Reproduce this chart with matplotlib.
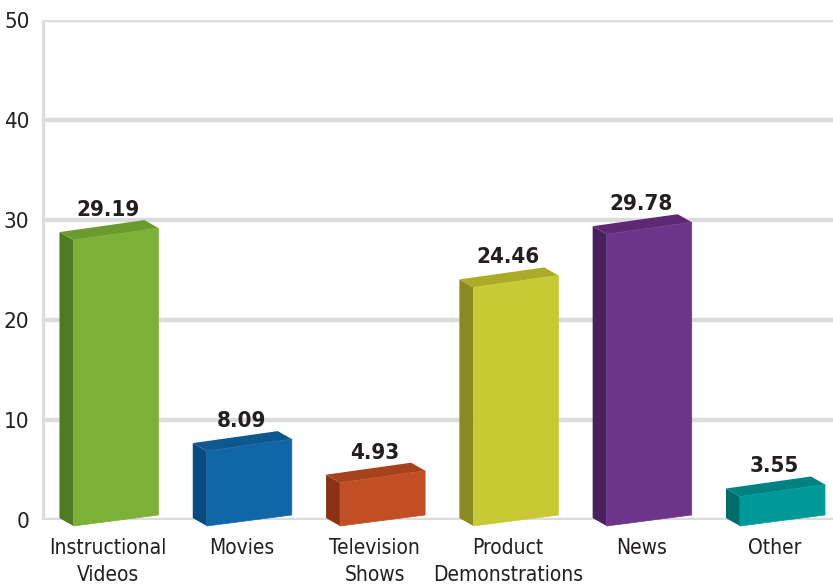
import matplotlib.pyplot as plt
from matplotlib.patches import Polygon

categories = ["Instructional\nVideos", "Movies", "Television\nShows", "Product\nDemonstrations", "News", "Other"]
values = [29.19, 8.09, 4.93, 24.46, 29.78, 3.55]
front_colors = ["#7cb036", "#1166a8", "#c24e25", "#c9c935", "#6d3589", "#009999"]
side_colors = ["#4e7a22", "#0b4a7e", "#8a3214", "#8a8a20", "#4a1f5e", "#006b6b"]
top_colors = ["#6c9a2e", "#0e5890", "#a8421c", "#abab2a", "#5c2a74", "#008282"]
yticks = [0, 10, 20, 30, 40, 50]

plt.rcParams['font.family'] = ['DejaVu Sans']
plt.rcParams['font.stretch'] = 'condensed'
text_color = "#231f20"
grid_color = "#dcdcdc"

fig = plt.figure(figsize=(8.33, 5.88), dpi=100)
ax = fig.add_axes([42 / 833, 68 / 588, 791 / 833, 500 / 588])
ax.set_xlim(-0.555, 5.379)
ax.set_ylim(0, 50)

# gridlines
for t in yticks:
    ax.axhline(t, color=grid_color, linewidth=3.2, zorder=1)
ax.axvline(-0.555, color=grid_color, linewidth=4.5, zorder=1)

# pseudo-3D bars
hw = 0.319      # half width of front face
dx, dy = -0.105, 0.8   # depth offset
for i, (v, fc, sc, tc) in enumerate(zip(values, front_colors, side_colors, top_colors)):
    xl, xr = i - hw, i + hw
    bl, br = -0.6, 0.5
    tl, tr = v - 1.2, v
    front = [(xl, bl), (xr, br), (xr, tr), (xl, tl)]
    side = [(xl + dx, bl + dy), (xl, bl), (xl, tl), (xl + dx, tl + dy)]
    top = [(xl, tl), (xr, tr), (xr + dx, tr + dy), (xl + dx, tl + dy)]
    ax.add_patch(Polygon(side, closed=True, facecolor=sc, edgecolor="none", zorder=3, clip_on=False))
    ax.add_patch(Polygon(top, closed=True, facecolor=tc, edgecolor="none", zorder=3, clip_on=False))
    ax.add_patch(Polygon(front, closed=True, facecolor=fc, edgecolor=fc, linewidth=0.5, zorder=4, clip_on=False))
    ax.text(i - 0.06, v + 0.8, f"{v:.2f}", ha="center", va="bottom", fontsize=16,
            fontweight="bold", color=text_color, zorder=5)

ax.set_yticks(yticks)
ax.set_yticklabels([str(t) for t in yticks], fontsize=16, color=text_color)
ax.set_xticks([i - 0.06 for i in range(len(categories))])
ax.set_xticklabels(categories, fontsize=15, color=text_color, linespacing=1.45)
ax.tick_params(axis="both", length=0)
ax.tick_params(axis="y", pad=9)
ax.tick_params(axis="x", pad=13)
for s in ax.spines.values():
    s.set_visible(False)

plt.savefig("out.png", dpi=100)
